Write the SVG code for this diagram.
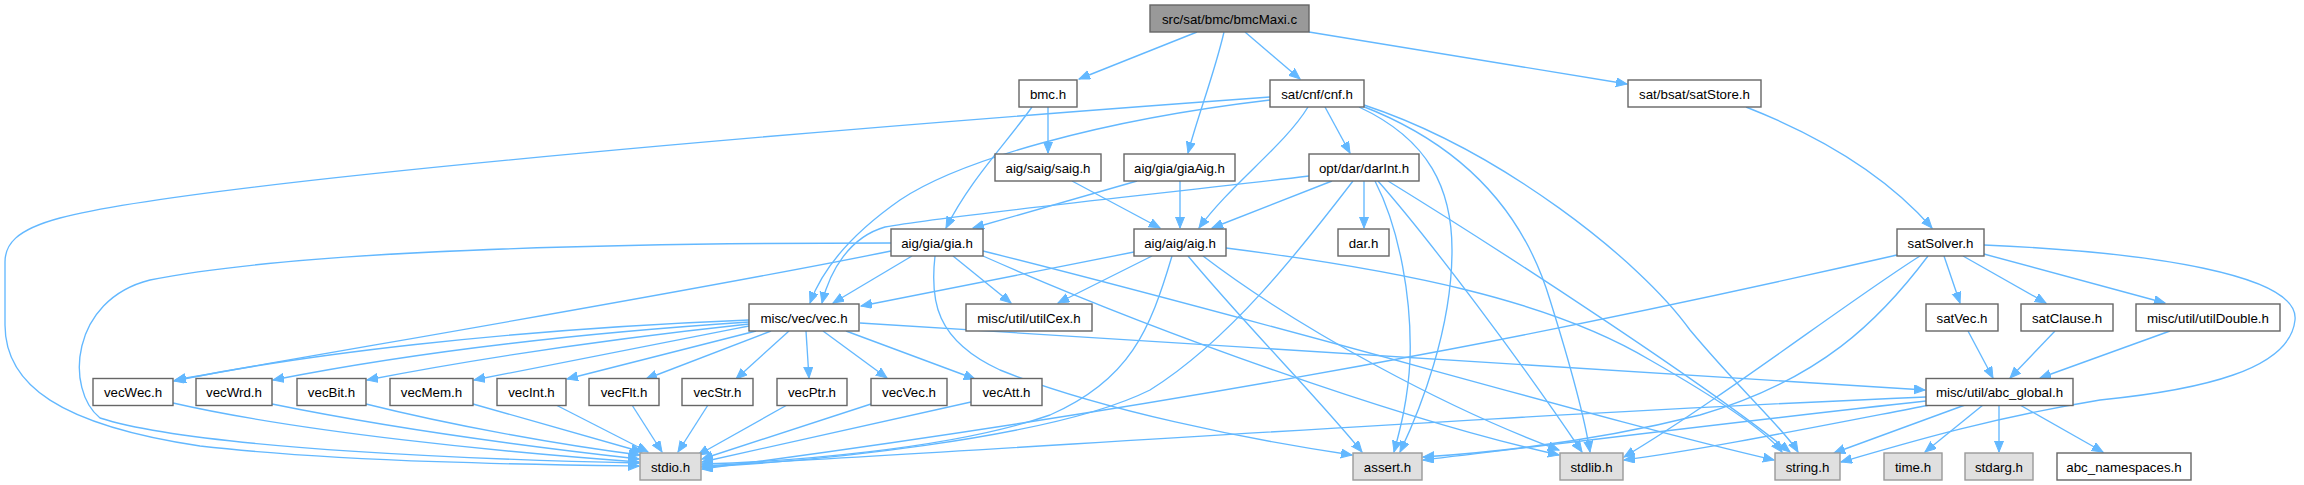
<svg xmlns="http://www.w3.org/2000/svg" width="2304" height="485" viewBox="0 0 2304 485">
<style>
rect{stroke-width:1.4}
.n rect{fill:#ffffff;stroke:#666666}
.r rect{fill:#999999;stroke:#666666}
.s rect{fill:#e0e0e0;stroke:#999999}
text{font-family:"Liberation Sans",Arial,Helvetica,sans-serif;font-size:13.3px;fill:#000000;text-anchor:middle}
#edges path{fill:none;stroke:#63b8ff;stroke-width:1.35;marker-end:url(#ah)}
</style>
<defs>
<marker id="ah" markerUnits="userSpaceOnUse" markerWidth="12" markerHeight="10" refX="11" refY="4.5" orient="auto">
<path d="M0,0 L11,4.5 L0,9 z" fill="#63b8ff" stroke="#63b8ff" stroke-width="1"/>
</marker>
</defs>
<rect width="2304" height="485" fill="#ffffff"/>
<g id="edges">
<path d="M1197,32 L1079,79"/>
<path d="M1224,32 C1214,75 1198,115 1188,153"/>
<path d="M1245,32 L1300,79"/>
<path d="M1309,32 L1627,84"/>
<path d="M1048,107 L1048,153"/>
<path d="M1032,107 C1005,145 970,180 946,228"/>
<path d="M1270,97 C900,124 200,180 60,218 C15,230 5,245 5,262 L5,325 C5,385 60,425 200,446 C350,463 560,465 639,466"/>
<path d="M1270,100 C1100,120 960,160 900,200 C850,235 822,270 810,303"/>
<path d="M1308,107 C1285,145 1230,185 1199,228"/>
<path d="M1325,107 L1350,153"/>
<path d="M1359,107 C1430,140 1452,190 1452,250 C1452,330 1420,410 1400,452"/>
<path d="M1362,106 C1450,140 1520,200 1550,300 C1575,380 1585,420 1590,452"/>
<path d="M1364,105 C1500,150 1640,260 1690,330 C1740,390 1785,430 1798,452"/>
<path d="M1072,181 L1160,228"/>
<path d="M1180,181 L1180,228"/>
<path d="M1137,181 L973,228"/>
<path d="M1309,176 C1150,195 950,215 885,227 C850,237 830,270 822,303"/>
<path d="M1332,181 L1212,228"/>
<path d="M1364,181 L1364,228"/>
<path d="M1353,181 C1300,250 1230,340 1150,390 C1050,440 800,462 702,467"/>
<path d="M1375,181 C1400,230 1412,300 1410,360 C1408,400 1400,430 1394,452"/>
<path d="M1378,181 C1430,240 1520,360 1582,452"/>
<path d="M1388,181 C1500,250 1700,380 1790,452"/>
<path d="M891,243 C600,243 300,250 150,280 C70,300 65,390 100,418 C200,450 500,460 639,463"/>
<path d="M912,256 L833,303"/>
<path d="M891,251 C700,290 400,340 175,380"/>
<path d="M953,256 L1011,303"/>
<path d="M935,256 C930,300 935,340 1000,370 C1100,410 1250,440 1352,455"/>
<path d="M983,256 C1150,330 1400,420 1559,455"/>
<path d="M983,251 C1300,330 1600,420 1774,460"/>
<path d="M1134,252 L861,306"/>
<path d="M1152,256 L1058,303"/>
<path d="M1172,256 C1150,330 1130,380 1050,415 C950,450 780,462 702,464"/>
<path d="M1188,256 C1250,330 1320,400 1362,452"/>
<path d="M1203,256 C1300,330 1450,410 1559,450"/>
<path d="M1226,248 C1400,270 1550,300 1650,360 C1720,400 1765,430 1782,452"/>
<path d="M749,320 C500,330 300,355 174,381"/>
<path d="M749,322 C550,335 400,355 273,380"/>
<path d="M749,324 C600,340 470,360 367,380"/>
<path d="M749,326 C650,345 550,365 474,380"/>
<path d="M756,331 L567,379"/>
<path d="M771,331 L646,379"/>
<path d="M789,331 L736,379"/>
<path d="M806,331 L809,378"/>
<path d="M823,331 L887,378"/>
<path d="M846,331 L975,379"/>
<path d="M860,323 C1100,340 1500,360 1925,390"/>
<path d="M173,403 C300,432 500,452 639,462"/>
<path d="M272,404 C400,430 540,448 639,459"/>
<path d="M366,404 C450,425 560,445 640,455"/>
<path d="M473,404 C530,420 600,440 642,452"/>
<path d="M556,405 L648,452"/>
<path d="M632,405 L662,452"/>
<path d="M708,405 L678,452"/>
<path d="M787,405 L698,455"/>
<path d="M871,404 L702,459"/>
<path d="M971,402 L702,462"/>
<path d="M1746,107 C1830,140 1890,180 1932,228"/>
<path d="M1897,255 C1700,300 1300,390 702,469"/>
<path d="M1928,256 C1880,320 1820,380 1700,415 C1600,440 1500,452 1423,457"/>
<path d="M1920,256 C1850,300 1720,400 1624,457"/>
<path d="M1984,245 C2150,252 2300,275 2295,320 C2290,370 2200,390 2100,400 C1980,420 1900,445 1841,462"/>
<path d="M1944,256 L1960,303"/>
<path d="M1963,256 L2046,303"/>
<path d="M1984,254 L2165,303"/>
<path d="M1968,331 L1993,378"/>
<path d="M2055,331 L2010,378"/>
<path d="M2170,331 L2040,378"/>
<path d="M1926,397 C1500,415 1000,450 702,466"/>
<path d="M1926,401 C1750,420 1550,445 1423,460"/>
<path d="M1930,405 C1800,430 1700,450 1624,460"/>
<path d="M1965,405 L1834,453"/>
<path d="M1983,405 L1925,452"/>
<path d="M1999,405 L1999,452"/>
<path d="M2020,405 L2103,452"/>
</g>
<g id="root" class="r"><rect x="1150" y="5" width="159" height="27"/><text x="1229.5" y="23.5">src/sat/bmc/bmcMaxi.c</text></g>
<g id="bmc" class="n"><rect x="1019" y="80" width="58" height="27"/><text x="1048" y="98.5">bmc.h</text></g>
<g id="cnf" class="n"><rect x="1270" y="80" width="94" height="27"/><text x="1317" y="98.5">sat/cnf/cnf.h</text></g>
<g id="satStore" class="n"><rect x="1628" y="80" width="133" height="27"/><text x="1694.5" y="98.5">sat/bsat/satStore.h</text></g>
<g id="saig" class="n"><rect x="995" y="154" width="106" height="27"/><text x="1048" y="172.5">aig/saig/saig.h</text></g>
<g id="giaAig" class="n"><rect x="1124" y="154" width="111" height="27"/><text x="1179.5" y="172.5">aig/gia/giaAig.h</text></g>
<g id="darInt" class="n"><rect x="1309" y="154" width="110" height="27"/><text x="1364" y="172.5">opt/dar/darInt.h</text></g>
<g id="gia" class="n"><rect x="891" y="229" width="92" height="27"/><text x="937" y="247.5">aig/gia/gia.h</text></g>
<g id="aig" class="n"><rect x="1134" y="229" width="92" height="27"/><text x="1180" y="247.5">aig/aig/aig.h</text></g>
<g id="dar" class="n"><rect x="1338" y="229" width="51" height="27"/><text x="1363.5" y="247.5">dar.h</text></g>
<g id="satSolver" class="n"><rect x="1897" y="229" width="87" height="27"/><text x="1940.5" y="247.5">satSolver.h</text></g>
<g id="vec" class="n"><rect x="749" y="304" width="110" height="27"/><text x="804" y="322.5">misc/vec/vec.h</text></g>
<g id="utilCex" class="n"><rect x="966" y="304" width="126" height="27"/><text x="1029" y="322.5">misc/util/utilCex.h</text></g>
<g id="satVec" class="n"><rect x="1926" y="304" width="72" height="27"/><text x="1962" y="322.5">satVec.h</text></g>
<g id="satClause" class="n"><rect x="2021" y="304" width="92" height="27"/><text x="2067" y="322.5">satClause.h</text></g>
<g id="utilDouble" class="n"><rect x="2136" y="304" width="144" height="27"/><text x="2208" y="322.5">misc/util/utilDouble.h</text></g>
<g id="vecWec" class="n"><rect x="93" y="378.5" width="80" height="27"/><text x="133" y="397">vecWec.h</text></g>
<g id="vecWrd" class="n"><rect x="196" y="378.5" width="76" height="27"/><text x="234" y="397">vecWrd.h</text></g>
<g id="vecBit" class="n"><rect x="297" y="378.5" width="69" height="27"/><text x="331.5" y="397">vecBit.h</text></g>
<g id="vecMem" class="n"><rect x="390" y="378.5" width="83" height="27"/><text x="431.5" y="397">vecMem.h</text></g>
<g id="vecInt" class="n"><rect x="497" y="378.5" width="69" height="27"/><text x="531.5" y="397">vecInt.h</text></g>
<g id="vecFlt" class="n"><rect x="589" y="378.5" width="70" height="27"/><text x="624" y="397">vecFlt.h</text></g>
<g id="vecStr" class="n"><rect x="682" y="378.5" width="71" height="27"/><text x="717.5" y="397">vecStr.h</text></g>
<g id="vecPtr" class="n"><rect x="777" y="378.5" width="70" height="27"/><text x="812" y="397">vecPtr.h</text></g>
<g id="vecVec" class="n"><rect x="871" y="378.5" width="76" height="27"/><text x="909" y="397">vecVec.h</text></g>
<g id="vecAtt" class="n"><rect x="971" y="378.5" width="71" height="27"/><text x="1006.5" y="397">vecAtt.h</text></g>
<g id="abc_global" class="n"><rect x="1926" y="378.5" width="147" height="27"/><text x="1999.5" y="397">misc/util/abc_global.h</text></g>
<g id="stdio" class="s"><rect x="640" y="453" width="61" height="27"/><text x="670.5" y="471.5">stdio.h</text></g>
<g id="assert" class="s"><rect x="1353" y="453" width="69" height="27"/><text x="1387.5" y="471.5">assert.h</text></g>
<g id="stdlib" class="s"><rect x="1560" y="453" width="63" height="27"/><text x="1591.5" y="471.5">stdlib.h</text></g>
<g id="string" class="s"><rect x="1775" y="453" width="65" height="27"/><text x="1807.5" y="471.5">string.h</text></g>
<g id="time" class="s"><rect x="1884" y="453" width="58" height="27"/><text x="1913" y="471.5">time.h</text></g>
<g id="stdarg" class="s"><rect x="1965" y="453" width="68" height="27"/><text x="1999" y="471.5">stdarg.h</text></g>
<g id="abc_namespaces" class="n"><rect x="2057" y="453" width="134" height="27"/><text x="2124" y="471.5">abc_namespaces.h</text></g>
</svg>
